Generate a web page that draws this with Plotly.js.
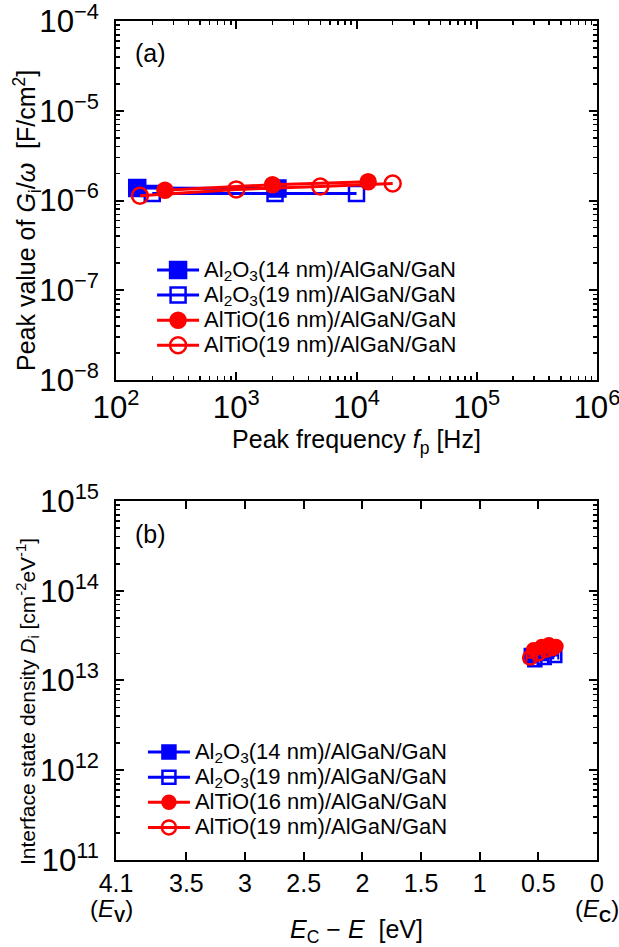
<!DOCTYPE html>
<html>
<head>
<meta charset="utf-8">
<script src="https://cdn.plot.ly/plotly-3.0.1.min.js"></script>
<style>html,body{margin:0;padding:0;background:#fff;}#chart{width:619px;height:947px;}</style>
</head>
<body>
<div id="chart"></div>
<script>
// ---- data: panel (a) peak value of Gi/omega vs peak frequency ----
const seriesNames = [
  'Al<sub>2</sub>O<sub>3</sub>(14 nm)/AlGaN/GaN',
  'Al<sub>2</sub>O<sub>3</sub>(19 nm)/AlGaN/GaN',
  'AlTiO(16 nm)/AlGaN/GaN',
  'AlTiO(19 nm)/AlGaN/GaN'
];
const fpA14 = [150, 2200];
const gA14  = [1.38e-6, 1.36e-6];
const fpA19 = [200, 2100, 10000];
const gA19  = [1.2e-6, 1.2e-6, 1.2e-6];
const fpT16 = [255, 2000, 12500];
const gT16  = [1.3e-6, 1.5e-6, 1.62e-6];
const fpT19 = [158, 1000, 5000, 20000];
const gT19  = [1.13e-6, 1.33e-6, 1.43e-6, 1.55e-6];

// ---- data: panel (b) interface state density vs Ec - E ----
const eA14 = [0.56, 0.49, 0.43];
const dA14 = [1.9e13, 2.0e13, 2.1e13];
const eA19 = [0.53, 0.45, 0.36];
const dA19 = [1.7e13, 1.8e13, 1.9e13];
const eT16 = [0.54, 0.47, 0.41, 0.35];
const dT16 = [2.2e13, 2.4e13, 2.5e13, 2.4e13];
const eT19 = [0.57, 0.50, 0.43, 0.38];
const dT19 = [1.8e13, 2.0e13, 2.2e13, 2.3e13];
const errE = 0.03;

// tick labels for panel (b) x axis
const eTickVals = [4.1, 3.5, 3, 2.5, 2, 1.5, 1, 0.5, 0];
const eTickText = ['4.1', '3.5', '3', '2.5', '2', '1.5', '1', '0.5', '0'];

const BLUE = '#0000ff', RED = '#ff0000';
const FONT = 'Liberation Sans, Arial, Helvetica, sans-serif';

function legText(s) { return '<span style="font-size:22px">' + s + '</span>'; }

function tr(x, y, name, color, symbol, size, xa, ya, leg, err) {
  const t = {
    x: x, y: y, name: legText(name), type: 'scatter', mode: 'lines+markers',
    xaxis: xa, yaxis: ya, legend: leg,
    line: {color: color, width: 3},
    marker: {color: color, symbol: symbol, size: size, line: {color: color, width: 2.5}}
  };
  if (err) {
    t.error_x = {type: 'constant', value: err, color: color, thickness: 2, width: 4};
  }
  return t;
}

const data = [
  tr(fpA14, gA14, seriesNames[0], BLUE, 'square', 16, 'x', 'y', 'legend'),
  tr(fpA19, gA19, seriesNames[1], BLUE, 'square-open', 15, 'x', 'y', 'legend'),
  tr(fpT16, gT16, seriesNames[2], RED, 'circle', 15, 'x', 'y', 'legend'),
  tr(fpT19, gT19, seriesNames[3], RED, 'circle-open', 16, 'x', 'y', 'legend'),
  tr(eA14, dA14, seriesNames[0], BLUE, 'square', 13, 'x2', 'y2', 'legend2', errE),
  tr(eA19, dA19, seriesNames[1], BLUE, 'square-open', 13, 'x2', 'y2', 'legend2', errE),
  tr(eT16, dT16, seriesNames[2], RED, 'circle', 13, 'x2', 'y2', 'legend2', errE),
  tr(eT19, dT19, seriesNames[3], RED, 'circle-open', 14, 'x2', 'y2', 'legend2', errE)
];

const axBase = {
  showline: true, linecolor: '#000', linewidth: 2, mirror: 'allticks',
  ticks: 'inside', ticklen: 8, tickwidth: 2, tickcolor: '#000',
  showgrid: false, zeroline: false, ticklabeloverflow: 'allow',
  tickfont: {family: FONT, size: 25, color: '#000'}
};
const logMinor = {ticks: 'inside', ticklen: 4, tickwidth: 1.5, tickcolor: '#000', dtick: 'D1', showgrid: false};

const layout = {
  width: 619, height: 947,
  margin: {l: 116, r: 22, t: 21, b: 87},
  paper_bgcolor: '#fff', plot_bgcolor: '#fff',
  font: {family: FONT, color: '#000'},
  showlegend: true,
  xaxis: Object.assign({}, axBase, {
    type: 'log', range: [1.9995, 6.0005], domain: [0, 1], anchor: 'y',
    tickmode: 'linear', tick0: 0, dtick: 1, exponentformat: 'power',
    minor: logMinor,
    title: {text: 'Peak frequency <i>f</i><sub>p</sub> [Hz]', font: {family: FONT, size: 25}, standoff: 6}
  }),
  yaxis: Object.assign({}, axBase, {
    type: 'log', range: [-8.0005, -3.9995], domain: [0.5721, 1], anchor: 'x',
    tickmode: 'linear', tick0: 0, dtick: 1, exponentformat: 'power',
    ticklabelstandoff: 10,
    minor: logMinor
  }),
  xaxis2: Object.assign({}, axBase, {
    type: 'linear', range: [4.1, 0], domain: [0, 1], anchor: 'y2',
    tickmode: 'array', tickvals: eTickVals, ticktext: eTickText,
    title: {text: '<i>E</i><sub>C</sub> − <i>E</i>  [eV]', font: {family: FONT, size: 25}, standoff: 28}
  }),
  yaxis2: Object.assign({}, axBase, {
    type: 'log', range: [10.9995, 15.0005], domain: [0, 0.4279], anchor: 'x2',
    tickmode: 'linear', tick0: 0, dtick: 1, exponentformat: 'power',
    ticklabelstandoff: 10,
    minor: logMinor
  }),
  legend: {
    x: 0.075, y: 0.658, xanchor: 'left', yanchor: 'middle', itemwidth: 42,
    bgcolor: 'rgba(0,0,0,0)', font: {family: FONT, size: 17, color: '#000'},
    tracegroupgap: 0
  },
  legend2: {
    x: 0.056, y: 0.0834, xanchor: 'left', yanchor: 'middle', itemwidth: 42,
    bgcolor: 'rgba(0,0,0,0)', font: {family: FONT, size: 17, color: '#000'},
    tracegroupgap: 0
  },
  annotations: [
    {text: 'Peak value of <i>G</i><sub>i</sub>/<i>ω</i>  [F/cm<sup>2</sup>]', textangle: -90, xref: 'paper', yref: 'paper', x: -0.185, y: 0.7616, xanchor: 'center', yanchor: 'middle', showarrow: false, font: {family: FONT, size: 25}},
    {text: 'Interface state density <i>D</i><sub>i</sub> [cm<sup>-2</sup>eV<sup>-1</sup>]', textangle: -90, xref: 'paper', yref: 'paper', x: -0.185, y: 0.1883, xanchor: 'center', yanchor: 'middle', showarrow: false, font: {family: FONT, size: 21}},
    {text: '(a)', xref: 'paper', yref: 'paper', x: 0.035, y: 0.962, xanchor: 'left', yanchor: 'middle', showarrow: false, font: {family: FONT, size: 25}},
    {text: '(b)', xref: 'paper', yref: 'paper', x: 0.035, y: 0.389, xanchor: 'left', yanchor: 'middle', showarrow: false, font: {family: FONT, size: 25}},
    {text: '(<i>E</i><sub><b>V</b></sub>)', xref: 'paper', yref: 'paper', x: -0.01, y: -0.06, xanchor: 'center', yanchor: 'middle', showarrow: false, font: {family: FONT, size: 24}},
    {text: '(<i>E</i><sub><b>C</b></sub>)', xref: 'paper', yref: 'paper', x: 1.0, y: -0.06, xanchor: 'center', yanchor: 'middle', showarrow: false, font: {family: FONT, size: 24}}
  ]
};

Plotly.newPlot('chart', data, layout, {staticPlot: true, displayModeBar: false});
</script>
</body>
</html>
